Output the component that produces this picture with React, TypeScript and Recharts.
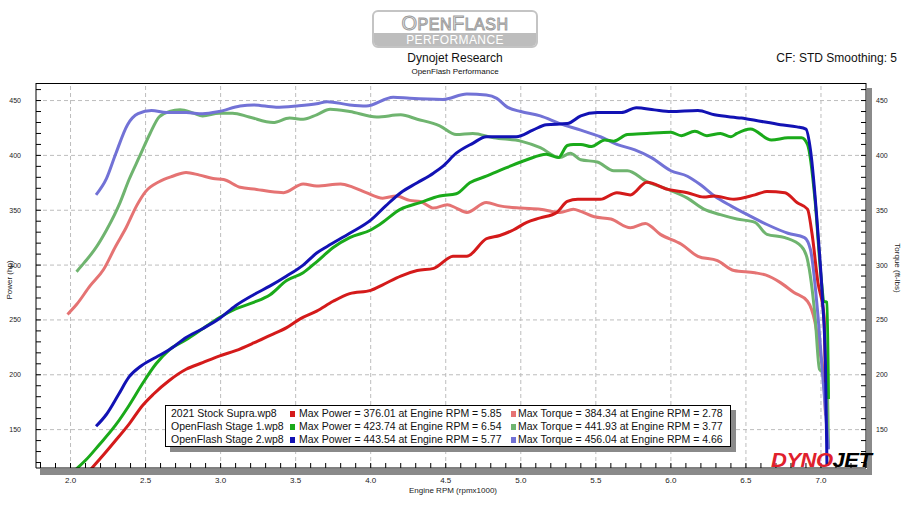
import React from 'react';
import { LineChart, Line, XAxis, YAxis, ReferenceLine } from 'recharts';

// dyno runs, rpm in thousands
const stockPowerRpm = [2.13, 2.22, 2.30, 2.39, 2.48, 2.55, 2.66, 2.77, 2.88, 2.99, 3.10, 3.22, 3.33, 3.44, 3.53, 3.64, 3.75, 3.86, 4.00, 4.08, 4.20, 4.31, 4.42, 4.55, 4.64, 4.77, 4.86, 4.95, 5.04, 5.13, 5.24, 5.31, 5.38, 5.53, 5.64, 5.73, 5.84, 5.98, 6.11, 6.22, 6.29, 6.42, 6.56, 6.64, 6.76, 6.84, 6.91, 6.94, 6.98, 7.02, 7.03];
const stockPowerHp = [113, 127, 140, 155, 172, 182, 195, 205, 211, 217, 222, 229, 236, 243, 251, 258, 267, 274, 277, 282, 290, 295, 297, 308, 308, 324, 327, 332, 339, 343, 348, 358, 360, 360, 366, 364, 375.5, 369, 366, 362, 363, 360, 364, 367, 366, 357, 351, 329, 284, 254, 193];

const stockTorqueRpm = [1.98, 2.04, 2.13, 2.22, 2.30, 2.37, 2.44, 2.50, 2.59, 2.68, 2.77, 2.86, 2.95, 3.02, 3.13, 3.24, 3.33, 3.42, 3.55, 3.64, 3.80, 3.88, 3.97, 4.08, 4.17, 4.26, 4.33, 4.42, 4.51, 4.57, 4.64, 4.77, 4.86, 5.00, 5.13, 5.26, 5.35, 5.40, 5.49, 5.60, 5.73, 5.83, 5.93, 6.07, 6.18, 6.31, 6.42, 6.56, 6.63, 6.73, 6.82, 6.91, 6.96, 6.99, 7.02, 7.03];
const stockTorqueLb = [255, 264, 281, 296, 317, 334, 354, 367, 376, 381, 384.5, 382, 379, 378, 371, 369, 367, 366, 374, 372, 374, 371, 366, 361, 363, 359, 358, 352, 355, 352, 348, 357, 354, 352, 351, 348, 351, 349, 344, 342, 334, 338, 328, 319, 308, 304, 295, 293, 291, 284, 275, 267, 248, 223, 193, 163];

const stage1PowerRpm = [2.03, 2.10, 2.19, 2.30, 2.39, 2.48, 2.57, 2.66, 2.77, 2.88, 2.99, 3.10, 3.22, 3.33, 3.44, 3.55, 3.64, 3.75, 3.86, 4.00, 4.06, 4.20, 4.33, 4.46, 4.57, 4.66, 4.77, 4.91, 5.04, 5.17, 5.25, 5.31, 5.35, 5.40, 5.47, 5.56, 5.62, 5.71, 5.84, 6.00, 6.07, 6.16, 6.24, 6.33, 6.40, 6.44, 6.53, 6.67, 6.78, 6.87, 6.91, 6.96, 7.00, 7.02, 7.04, 7.05];
const stage1PowerHp = [113, 122, 136, 154, 172, 192, 210, 223, 232, 242, 252, 260, 266, 273, 286, 293, 303, 316, 325, 332, 337, 351, 357, 363, 365, 375, 381, 389, 396, 401, 398, 409, 410, 410, 408, 414, 413, 419, 420, 421, 418, 422, 418, 420, 417, 420, 424, 414, 416, 416, 410, 360, 290, 267, 266, 178];

const stage1TorqueRpm = [2.04, 2.09, 2.16, 2.24, 2.33, 2.39, 2.46, 2.53, 2.59, 2.66, 2.73, 2.82, 2.88, 2.99, 3.08, 3.19, 3.35, 3.46, 3.55, 3.64, 3.73, 3.86, 4.04, 4.20, 4.31, 4.46, 4.57, 4.68, 4.82, 5.00, 5.13, 5.26, 5.33, 5.40, 5.51, 5.62, 5.71, 5.84, 5.98, 6.11, 6.22, 6.33, 6.44, 6.56, 6.64, 6.76, 6.87, 6.91, 6.96, 6.99, 7.04, 7.05];
const stage1TorqueLb = [294, 302, 314, 332, 357, 378, 399, 420, 435, 440, 441.5, 438.5, 436, 438.5, 438.5, 435, 430, 434, 433, 437, 442, 440, 435, 437, 433, 427, 419, 420, 416, 413, 407, 398, 402, 396, 394, 386, 386, 376, 369, 361, 351, 346, 342, 339, 328, 325, 317, 305, 254, 205, 199, 133];

const stage2PowerRpm = [2.17, 2.24, 2.32, 2.39, 2.47, 2.57, 2.66, 2.77, 2.88, 2.99, 3.10, 3.22, 3.33, 3.44, 3.55, 3.64, 3.71, 3.86, 4.00, 4.10, 4.20, 4.31, 4.42, 4.48, 4.57, 4.68, 4.77, 4.86, 4.97, 5.08, 5.17, 5.31, 5.40, 5.51, 5.67, 5.77, 5.89, 6.00, 6.18, 6.29, 6.47, 6.56, 6.73, 6.84, 6.90, 6.93, 6.98, 7.01, 7.03, 7.04];
const stage2PowerHp = [153, 164, 182, 198, 208, 216, 223, 234, 242, 251, 263, 273, 281, 290, 300, 311, 317, 329, 341, 354, 366, 375, 384, 390, 402, 411, 417, 417, 417, 423, 428, 429, 436, 439, 439, 443.5, 441.5, 440, 441, 437, 434, 432, 428, 426, 424, 405, 329, 269, 208, 117];

const stage2TorqueRpm = [2.17, 2.24, 2.30, 2.38, 2.45, 2.54, 2.64, 2.77, 2.88, 2.99, 3.13, 3.22, 3.37, 3.50, 3.64, 3.71, 3.86, 3.97, 4.15, 4.26, 4.48, 4.64, 4.77, 4.84, 4.91, 5.00, 5.13, 5.26, 5.40, 5.53, 5.64, 5.76, 5.87, 6.00, 6.11, 6.20, 6.29, 6.40, 6.51, 6.64, 6.78, 6.89, 6.93, 6.98, 7.01, 7.05];
const stage2TorqueLb = [364, 379, 401, 428, 438, 441, 439, 439, 438, 440, 445, 446, 444, 445, 447, 449, 446, 445, 453, 452, 451, 456, 455, 452, 444, 440, 436, 429, 423, 417, 410, 405, 398, 386, 381, 373, 363, 354, 346, 337, 329, 325, 314, 254, 202, 132];

const runNames = ['2021 Stock Supra.wp8', 'OpenFlash Stage 1.wp8', 'OpenFlash Stage 2.wp8'];
const powerNotes = ['Max Power = 376.01 at Engine RPM = 5.85', 'Max Power = 423.74 at Engine RPM = 6.54', 'Max Power = 443.54 at Engine RPM = 5.77'];
const torqueNotes = ['Max Torque = 384.34 at Engine RPM = 2.78', 'Max Torque = 441.93 at Engine RPM = 3.77', 'Max Torque = 456.04 at Engine RPM = 4.66'];
const powerColors = ['#d41a1a', '#1aaa1a', '#1212b4'];
const torqueColors = ['#e57373', '#6fb46f', '#7272d6'];

const xMajor = [2.0, 2.5, 3.0, 3.5, 4.0, 4.5, 5.0, 5.5, 6.0, 6.5, 7.0];
const yMajor = [150, 200, 250, 300, 350, 400, 450];

const xMinor: number[] = [];
for (let i = 18; i <= 73; i++) xMinor.push(i / 10);
const yMinor: number[] = [];
for (let v = 120; v <= 460; v += 10) yMinor.push(v);

const toPoints = (xs: number[], ys: number[]) => xs.map((x, i) => ({ x, v: ys[i] }));

const powerRuns = [
  toPoints(stockPowerRpm, stockPowerHp),
  toPoints(stage1PowerRpm, stage1PowerHp),
  toPoints(stage2PowerRpm, stage2PowerHp),
];
const torqueRuns = [
  toPoints(stockTorqueRpm, stockTorqueLb),
  toPoints(stage1TorqueRpm, stage1TorqueLb),
  toPoints(stage2TorqueRpm, stage2TorqueLb),
];

const FONT = '"Liberation Sans", Arial, sans-serif';

const isMajorX = (v: number) => Math.abs(v * 2 - Math.round(v * 2)) < 1e-6;

const XTick = (props: any) => {
  const { x, y, payload } = props;
  const v = payload.value;
  return (
    <g>
      <line x1={x} x2={x} y1={y} y2={y - 5} stroke="#000" />
      {isMajorX(v) && v >= 2 && v <= 7 && (
        <text x={x} y={y + 15} textAnchor="middle" fontSize={8} fill="#222" fontFamily={FONT}>
          {v.toFixed(1)}
        </text>
      )}
    </g>
  );
};

const LeftTick = (props: any) => {
  const { x, y, payload } = props;
  const v = payload.value;
  return (
    <g>
      <line x1={x} x2={x + 5} y1={y} y2={y} stroke="#000" />
      {v % 50 === 0 && (
        <text x={x - 15} y={y + 2.5} textAnchor="end" fontSize={7} fill="#222" fontFamily={FONT}>
          {v}
        </text>
      )}
    </g>
  );
};

const RightTick = (props: any) => {
  const { x, y, payload } = props;
  const v = payload.value;
  return (
    <g>
      <line x1={x} x2={x - 5} y1={y} y2={y} stroke="#000" />
      {v % 50 === 0 && (
        <text x={x + 10} y={y + 2.5} textAnchor="start" fontSize={7} fill="#222" fontFamily={FONT}>
          {v}
        </text>
      )}
    </g>
  );
};

const abs = (left: number, top: number, extra: React.CSSProperties = {}): React.CSSProperties => ({
  position: 'absolute',
  left,
  top,
  ...extra,
});

const logoBig: React.CSSProperties = { fontSize: 20, lineHeight: 1 };
const logoSmall: React.CSSProperties = { fontSize: 16, lineHeight: 1 };

export default function App() {
  return (
    <div style={{ position: 'relative', width: 910, height: 512, background: '#fff', fontFamily: FONT, overflow: 'hidden' }}>
      <style>{'body{margin:0}'}</style>

      {/* OpenFlash logo */}
      <div
        style={abs(372, 10, {
          width: 162,
          height: 34,
          border: '2px solid #c4c4c4',
          borderRadius: 6,
          overflow: 'hidden',
          background: '#fff',
        })}
      >
        <div
          style={{
            height: 21,
            display: 'flex',
            justifyContent: 'center',
            alignItems: 'baseline',
            paddingTop: 1,
            boxSizing: 'border-box',
            color: '#ececec',
            WebkitTextStroke: '1px #9c9c9c',
            letterSpacing: 0.5,
          }}
        >
          <span style={logoBig}>O</span>
          <span style={logoSmall}>PEN</span>
          <span style={logoBig}>F</span>
          <span style={logoSmall}>LASH</span>
        </div>
        <div style={{ height: 13, background: '#bdbdbd', display: 'flex', justifyContent: 'center', alignItems: 'center' }}>
          <span style={{ color: '#fff', fontSize: 12, lineHeight: 1, letterSpacing: 0.4 }}>PERFORMANCE</span>
        </div>
      </div>

      <div style={abs(0, 51, { width: 910, textAlign: 'center', fontSize: 12, color: '#111' })}>Dynojet Research</div>
      <div style={abs(0, 67, { width: 910, textAlign: 'center', fontSize: 8, color: '#111' })}>OpenFlash Performance</div>
      <div style={abs(700, 51, { width: 197, textAlign: 'right', fontSize: 12, color: '#111' })}>CF: STD Smoothing: 5</div>

      {/* 3D shadow of the plot frame */}
      <div style={abs(40, 469, { width: 832, height: 6, background: '#8a8a8a' })} />
      <div style={abs(867, 88, { width: 5, height: 387, background: '#8a8a8a' })} />

      <div style={abs(0, 0)}>
        <LineChart width={910} height={512} margin={{ top: 83, right: 0, bottom: 0, left: 0 }}>
          <XAxis
            type="number"
            dataKey="x"
            domain={[1.77, 7.3]}
            allowDataOverflow
            ticks={xMinor}
            interval={0}
            height={44}
            tickSize={0}
            tickMargin={0}
            tick={<XTick />}
            tickLine={false}
            axisLine={{ stroke: '#000' }}
          />
          <YAxis
            yAxisId="left"
            type="number"
            domain={[115, 466]}
            allowDataOverflow
            ticks={yMinor}
            interval={0}
            width={36}
            tickSize={0}
            tickMargin={0}
            tick={<LeftTick />}
            tickLine={false}
            axisLine={{ stroke: '#000' }}
          />
          <YAxis
            yAxisId="right"
            orientation="right"
            type="number"
            domain={[115, 466]}
            allowDataOverflow
            ticks={yMinor}
            interval={0}
            width={44}
            tickSize={0}
            tickMargin={0}
            tick={<RightTick />}
            tickLine={false}
            axisLine={{ stroke: '#000' }}
          />
          {xMajor.map((v) => (
            <ReferenceLine key={'x' + v} x={v} yAxisId="left" stroke="#bdbdbd" strokeDasharray="4 3" />
          ))}
          {yMajor.map((v) => (
            <ReferenceLine key={'y' + v} y={v} yAxisId="left" stroke="#bdbdbd" strokeDasharray="4 3" />
          ))}
          {torqueRuns.map((pts, i) => (
            <Line
              key={'t' + i}
              yAxisId="right"
              data={pts}
              dataKey="v"
              type="monotone"
              stroke={torqueColors[i]}
              strokeWidth={3}
              dot={false}
              isAnimationActive={false}
            />
          ))}
          {powerRuns.map((pts, i) => (
            <Line
              key={'p' + i}
              yAxisId="left"
              data={pts}
              dataKey="v"
              type="monotone"
              stroke={powerColors[i]}
              strokeWidth={3}
              dot={false}
              isAnimationActive={false}
            />
          ))}
        </LineChart>
      </div>

      {/* top frame edge */}
      <div style={abs(36, 83, { width: 830, height: 1, background: '#000' })} />

      {/* axis titles */}
      <div style={abs(9, 280, { transform: 'translate(-50%, -50%) rotate(-90deg)', fontSize: 8, whiteSpace: 'nowrap', color: '#222' })}>Power (hp)</div>
      <div style={abs(897, 268, { transform: 'translate(-50%, -50%) rotate(90deg)', fontSize: 8, whiteSpace: 'nowrap', color: '#222' })}>Torque (ft-lbs)</div>
      <div style={abs(0, 486, { width: 906, textAlign: 'center', fontSize: 8, color: '#222' })}>Engine RPM (rpmx1000)</div>

      {/* legend */}
      <div
        style={abs(165, 405, {
          width: 564,
          height: 40,
          border: '1px solid #000',
          background: '#fff',
          boxShadow: '5px 5px 0 #8a8a8a',
          fontSize: 10.5,
          color: '#111',
        })}
      >
        {runNames.map((name, i) => (
          <div key={name} style={{ position: 'absolute', top: 1 + i * 13, left: 0, height: 13, lineHeight: '13px', width: 564 }}>
            <span style={{ position: 'absolute', left: 5 }}>{name}</span>
            <span style={{ position: 'absolute', left: 124, top: 4, width: 5, height: 6, background: powerColors[i] }} />
            <span style={{ position: 'absolute', left: 133 }}>{powerNotes[i]}</span>
            <span style={{ position: 'absolute', left: 345, top: 4, width: 5, height: 6, background: torqueColors[i] }} />
            <span style={{ position: 'absolute', left: 352 }}>{torqueNotes[i]}</span>
          </div>
        ))}
      </div>

      {/* Dynojet mark */}
      <div
        style={abs(771, 449, {
          fontSize: 21,
          fontWeight: 900,
          fontStyle: 'italic',
          letterSpacing: -0.5,
          lineHeight: '22px',
          transform: 'scaleX(1.05)',
          transformOrigin: 'left top',
        })}
      >
        <span style={{ color: '#e0202c' }}>DYNO</span>
        <span style={{ color: '#000' }}>JET</span>
      </div>
    </div>
  );
}
